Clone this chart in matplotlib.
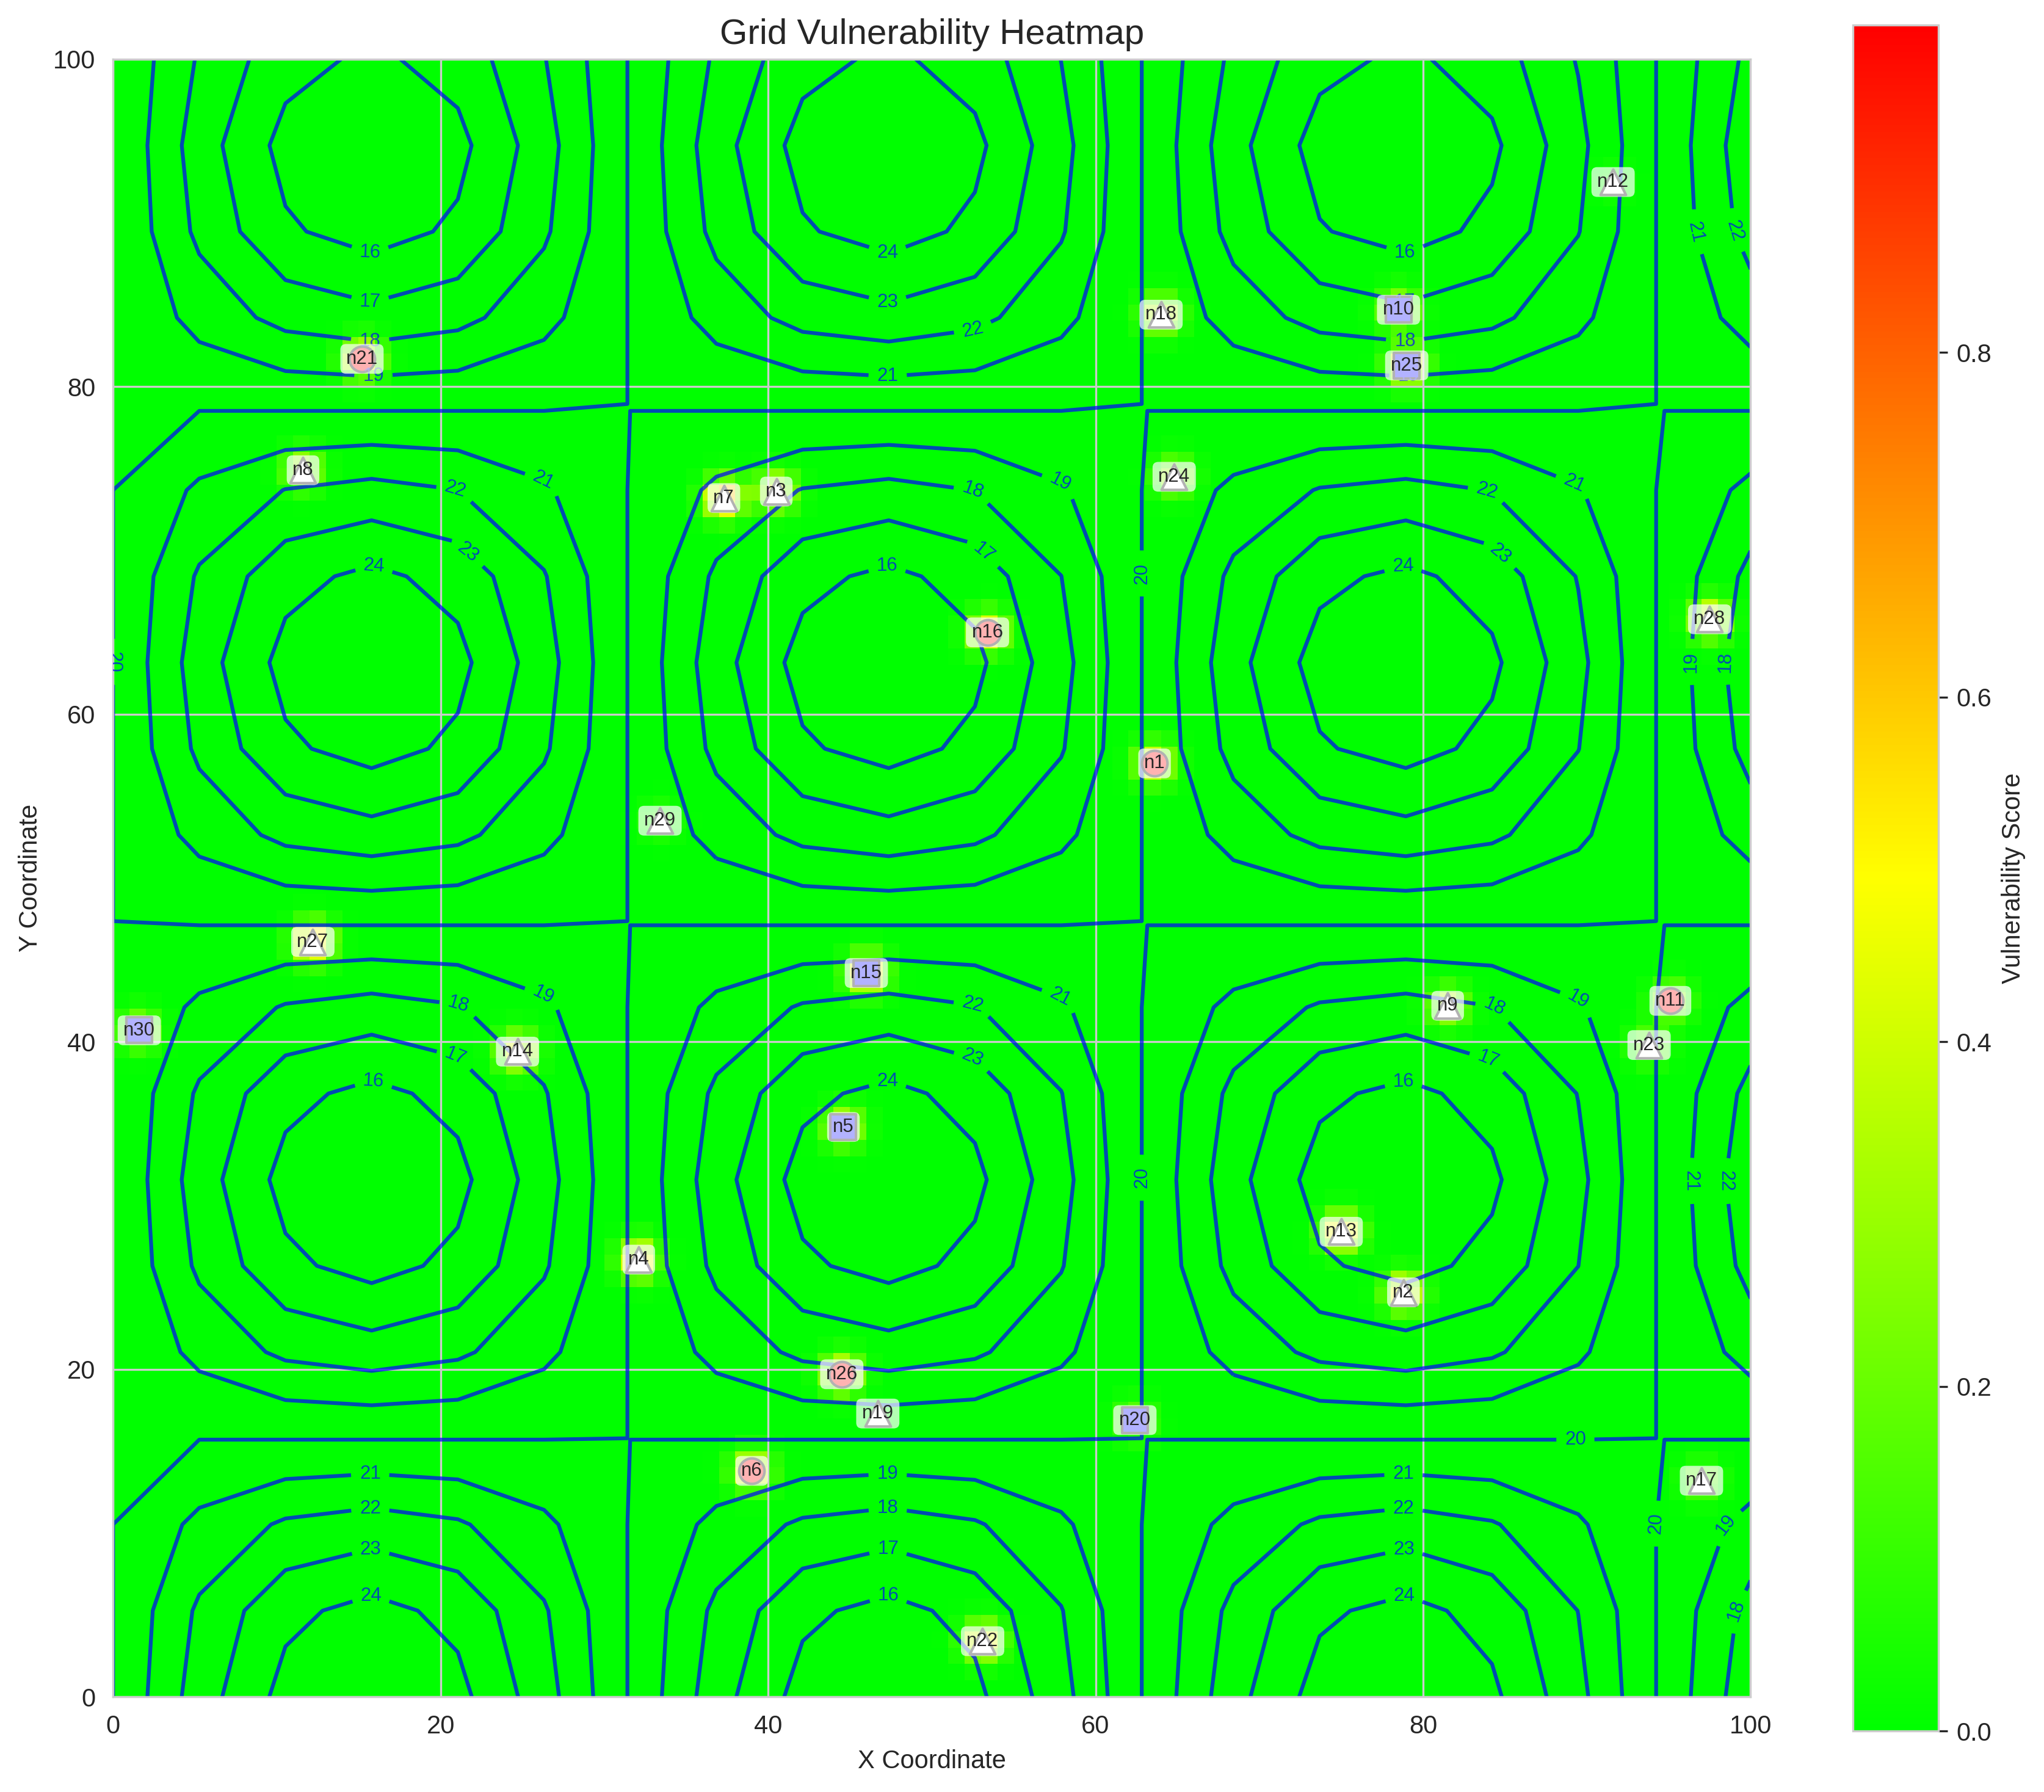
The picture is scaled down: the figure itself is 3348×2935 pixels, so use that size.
import numpy as np
import matplotlib
matplotlib.use("Agg")
import matplotlib.pyplot as plt
import seaborn as sns
from matplotlib.colors import LinearSegmentedColormap

sns.set_style("whitegrid")
plt.rcParams['font.family'] = ['Liberation Sans', 'DejaVu Sans']

# grid nodes: name, x, y, type, vulnerability
node_names = ["n1", "n2", "n3", "n4", "n5", "n6", "n7", "n8", "n9", "n10",
              "n11", "n12", "n13", "n14", "n15", "n16", "n17", "n18", "n19", "n20",
              "n21", "n22", "n23", "n24", "n25", "n26", "n27", "n28", "n29", "n30"]
node_x = [63.6, 78.8, 40.5, 32.1, 44.6, 39.0, 37.3, 11.6, 81.5, 78.5,
          95.1, 91.6, 75.0, 24.7, 46.0, 53.4, 97.0, 64.0, 46.7, 62.4,
          15.2, 53.1, 93.8, 64.8, 79.0, 44.5, 12.2, 97.5, 33.4, 1.6]
node_y = [57.0, 24.7, 73.6, 26.7, 34.8, 13.8, 73.2, 74.9, 42.2, 84.7,
          42.5, 92.5, 28.4, 39.4, 44.2, 65.0, 13.2, 84.4, 17.3, 16.9,
          81.7, 3.4, 39.8, 74.5, 81.3, 19.7, 46.1, 65.8, 53.5, 40.7]
node_type = ["gen", "sub", "sub", "sub", "load", "gen", "sub", "sub", "sub", "load",
             "gen", "sub", "sub", "sub", "load", "gen", "sub", "sub", "sub", "load",
             "gen", "sub", "sub", "sub", "load", "gen", "sub", "sub", "sub", "load"]
node_vuln = [0.45, 0.5, 0.45, 0.55, 0.4, 0.5, 0.65, 0.35, 0.35, 0.35,
             0.3, 0.05, 0.55, 0.45, 0.55, 0.5, 0.2, 0.4, 0.0, 0.2,
             0.5, 0.5, 0.2, 0.3, 0.5, 0.5, 0.6, 0.5, 0.1, 0.3]

# background potential surface (contour field)
base_level = 20
amplitude = 5
wavelength = 10
contour_levels = [16, 17, 18, 19, 20, 21, 22, 23, 24]

# where the contour labels sit (layout only)
label_spots = [
    (15.7, 88.2), (15.7, 85.2), (15.7, 82.8), (15.9, 80.6),
    (47.3, 88.2), (47.3, 85.2), (52.5, 83.6), (47.3, 80.6),
    (78.9, 88.2), (78.9, 85.2), (78.9, 82.8), (79.1, 80.6),
    (96.8, 89.5), (99.0, 89.5), (0.2, 63.2),
    (15.9, 68.9), (21.6, 69.8), (20.9, 73.7), (26.3, 74.4),
    (47.3, 68.9), (53.1, 69.8), (52.5, 73.7), (57.9, 74.4),
    (78.8, 68.9), (84.7, 69.8), (83.9, 73.7), (89.3, 74.4),
    (63.0, 68.6), (96.3, 63.2), (98.5, 63.2),
    (15.9, 37.6), (20.9, 39.1), (21.1, 42.3), (26.3, 43.0),
    (47.3, 37.6), (52.5, 39.1), (52.5, 42.3), (57.9, 43.0),
    (78.8, 37.6), (84.0, 39.1), (84.4, 42.3), (89.6, 43.0),
    (62.9, 31.7), (96.3, 31.5), (98.5, 31.5),
    (15.7, 13.6), (15.7, 11.6), (15.7, 9.2), (15.7, 6.4),
    (47.3, 13.6), (47.3, 11.6), (47.3, 9.2), (47.3, 6.4),
    (78.8, 13.6), (78.8, 11.6), (78.8, 9.2), (78.8, 6.4),
    (89.3, 15.9), (94.1, 10.6), (98.5, 10.5), (99.0, 5.3),
]

marker_style = {"gen": ("o", "red"), "load": ("s", "blue"), "sub": ("^", "white")}

# vulnerability heat grid
cx = np.arange(100) + 0.5
cy = np.arange(100) + 0.5
HX, HY = np.meshgrid(cx, cy)
heat = np.zeros_like(HX)
for x, y, v in zip(node_x, node_y, node_vuln):
    heat += v * np.exp(-((HX - x) ** 2 + (HY - y) ** 2) / (2 * 0.85 ** 2))

gx = np.linspace(0, 100, 20)
gy = np.linspace(0, 100, 20)
X, Y = np.meshgrid(gx, gy)
Z = base_level + amplitude * np.sin(X / wavelength) * np.cos(Y / wavelength)

cmap = LinearSegmentedColormap.from_list("vuln", ["#00ff00", "#ffff00", "#ff0000"])

fig, ax = plt.subplots(figsize=(12, 10))
im = ax.imshow(heat, extent=[0, 100, 0, 100], origin="lower", cmap=cmap, vmin=0, vmax=0.99)
cs = ax.contour(X, Y, Z, levels=contour_levels, colors="blue", alpha=0.7, linewidths=1.5)
ax.clabel(cs, inline=True, fontsize=7.5, manual=label_spots)

for name, x, y, t in zip(node_names, node_x, node_y, node_type):
    m, c = marker_style[t]
    ax.scatter(x, y, marker=m, s=100, c=c, edgecolors="black", linewidths=1, zorder=3)
    ax.text(x, y, name, fontsize=7.5, ha="center", va="center", zorder=4,
            bbox=dict(boxstyle="round,pad=0.3", facecolor="white", edgecolor="none", alpha=0.7))

ax.set_xlim(0, 100)
ax.set_ylim(0, 100)
ax.set_title("Grid Vulnerability Heatmap", fontsize=14)
ax.set_xlabel("X Coordinate")
ax.set_ylabel("Y Coordinate")
fig.colorbar(im, ax=ax, label="Vulnerability Score")

plt.tight_layout()
plt.savefig("out.png", dpi=300, bbox_inches="tight")
